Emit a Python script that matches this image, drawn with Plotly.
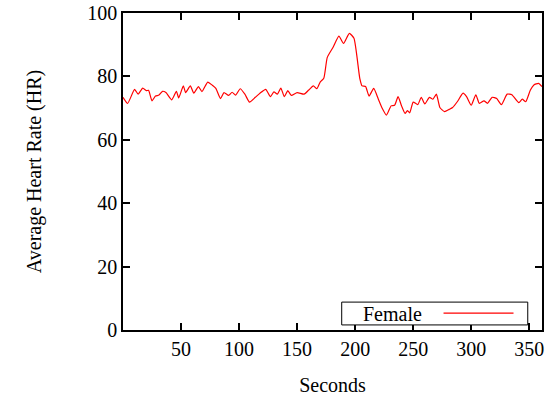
import plotly.graph_objects as go

seconds = [0, 4, 10, 13, 17, 20, 22, 25, 28, 31, 34, 37, 42, 46, 48, 52, 54, 58, 61, 65, 68, 73, 77, 80,
           84, 87, 91, 94, 97, 101, 105, 109, 114, 118, 123, 127, 130, 133, 136, 139, 142, 145, 150,
           156, 160, 164, 167, 170, 173, 176, 181, 186, 190, 195, 199, 204, 206, 209, 212, 216, 220,
           223, 227, 231, 234, 237, 240, 243, 245, 247, 250, 254, 257, 260, 264, 267, 270, 273, 277,
           281, 284, 288, 293, 296, 300, 304, 307, 311, 314, 318, 322, 326, 331, 335, 341, 344, 347,
           351, 354, 358, 361]
female_hr = [73.4, 71.5, 75.9, 74.4, 76.3, 75.5, 75.6, 72.3, 73.8, 74.1, 75.3, 74.9, 72.6, 75.3, 73.2,
             77.0, 74.9, 77.0, 74.7, 76.8, 75.2, 78.2, 77.2, 76.2, 73.0, 74.9, 74.0, 75.0, 74.1, 76.1,
             74.4, 71.9, 73.4, 74.7, 75.9, 73.6, 75.1, 74.4, 76.3, 73.6, 75.5, 74.0, 74.9, 74.4, 75.7,
             77.0, 76.1, 78.3, 79.4, 86.0, 89.2, 92.7, 90.4, 93.6, 92.0, 79.4, 77.0, 76.8, 73.8, 76.2,
             72.8, 70.2, 67.8, 70.7, 70.9, 73.6, 70.7, 68.3, 69.2, 68.5, 71.9, 71.1, 73.4, 71.3, 73.4,
             72.8, 74.4, 70.2, 68.9, 69.6, 70.2, 72.0, 74.7, 73.6, 70.9, 74.2, 71.5, 72.3, 71.5, 73.4,
             73.0, 71.1, 74.4, 74.2, 71.7, 72.8, 72.0, 75.7, 77.3, 77.8, 76.8]

x_ticks = [50, 100, 150, 200, 250, 300, 350]
y_ticks = [0, 20, 40, 60, 80, 100]

FONT = "Liberation Serif"

fig = go.Figure()
fig.add_trace(go.Scatter(x=seconds, y=female_hr, mode="lines", name="Female",
                         line=dict(color="#ff0000", width=1.2, shape="spline", smoothing=0.5),
                         showlegend=False))

axis_common = dict(showgrid=False, zeroline=False, showline=True, linecolor="black", linewidth=1.5,
                   mirror="allticks", ticks="inside", ticklen=7, tickwidth=1.5, tickcolor="#000000",
                   layer="above traces",
                   tickfont=dict(family=FONT, size=20, color="black"))

fig.update_xaxes(range=[0, 361], tickmode="array", tickvals=x_ticks,
                 title=dict(text="Seconds", font=dict(family=FONT, size=20, color="black"), standoff=19),
                 **axis_common)
fig.update_yaxes(range=[0, 100], tickmode="array", tickvals=y_ticks, ticksuffix="\u00a0",
                 title=dict(text="Average Heart Rate (HR)", font=dict(family=FONT, size=20, color="black"), standoff=40),
                 **axis_common)

# legend drawn in the gnuplot style: text on the left, line sample on the right
fig.add_shape(type="rect", xref="paper", yref="paper", x0=0.522, x1=0.966, y0=0.016, y1=0.088,
              line=dict(color="black", width=1), fillcolor="white")
fig.add_shape(type="line", xref="paper", yref="paper", x0=0.765, x1=0.932, y0=0.053, y1=0.053,
              line=dict(color="#ff0000", width=1.2))
fig.add_annotation(text="Female", xref="paper", yref="paper", x=0.644, y=0.052, showarrow=False,
                   xanchor="center", yanchor="middle", font=dict(family=FONT, size=20, color="black"))

fig.update_layout(width=557, height=402, margin=dict(l=123, r=15, t=13, b=72, autoexpand=False),
                  plot_bgcolor="white", paper_bgcolor="white", showlegend=False)

fig.write_html("out.html", config={"displayModeBar": False},
               post_script="document.body.style.margin='0';")
